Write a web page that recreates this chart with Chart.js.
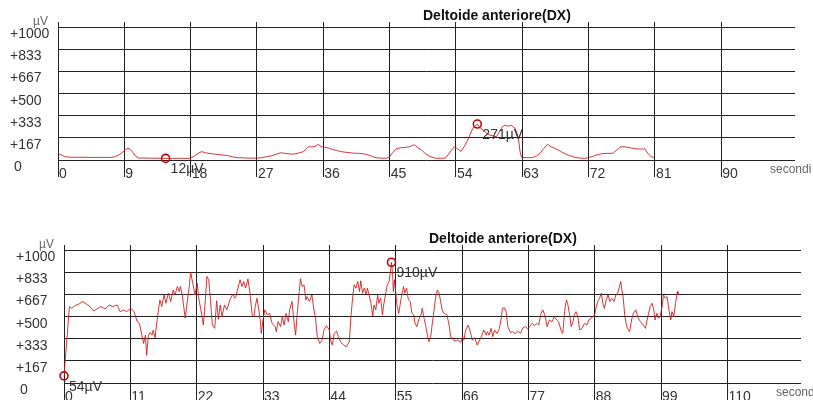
<!DOCTYPE html>
<html>
<head>
<meta charset="utf-8">
<script src="https://cdn.jsdelivr.net/npm/chart.js@4/dist/chart.umd.min.js"></script>
<style>
  html, body { margin: 0; padding: 0; background: #fff; overflow: hidden; width: 813px; height: 400px; }
  canvas { position: absolute; }
  #emgTop { left: 0; top: 0; }
  #emgBottom { left: 6px; top: 223px; }
</style>
</head>
<body>
<canvas id="emgTop" width="813" height="200"></canvas>
<canvas id="emgBottom" width="813" height="200"></canvas>
<script>
// ---- Data: EMG envelope of the anterior deltoid (µV over seconds) ----
const muscleTitle = 'Deltoide anteriore(DX)';
const yTickValues = [0, 166.7, 333.3, 500, 666.7, 833.3, 1000];
const yTickLabels = [' 0', '+167', '+333', '+500', '+667', '+833', '+1000'];

// First recording
const topTimes = [0, 0.4, 0.9, 1.5, 2.5, 3.5, 4.5, 5.5, 6.5, 7.3, 7.8, 8.3, 8.8, 9.2, 9.5, 9.8, 10.2, 10.6, 11.0, 11.5,
  12.5, 13.5, 14.6, 15.5, 16.5, 17.5, 18.0, 18.5, 19.0, 19.5, 20.0, 20.5, 21.0, 22.0, 23.0, 24.0, 24.5, 25.5, 26.5, 27.5,
  28.3, 29.0, 29.6, 30.2, 30.8, 31.5, 32.1, 32.8, 33.3, 33.7, 34.0, 34.5, 35.0, 35.3, 35.7, 36.2, 36.7, 37.2, 37.8, 38.5,
  39.2, 40.0, 40.8, 41.6, 42.3, 43.0, 43.8, 44.6, 45.0, 45.4, 45.9, 46.5, 47.1, 47.7, 48.1, 48.4, 48.8, 49.3, 49.8, 50.4,
  51.1, 52.0, 52.6, 53.0, 53.4, 53.8, 54.3, 54.7, 55.1, 55.5, 55.9, 56.3, 56.9, 57.3, 57.7, 58.2, 58.6, 59.1, 59.5, 59.9,
  60.3, 60.7, 61.1, 61.5, 62.0, 62.3, 62.5, 62.7, 62.9, 63.6, 64.3, 64.9, 65.4, 65.9, 66.4, 66.9, 67.4, 68.0, 68.5, 69.3,
  70.1, 70.8, 71.5, 72.0, 72.4, 73.1, 73.8, 74.5, 75.3, 75.8, 76.2, 76.5, 77.1, 77.8, 78.5, 79.2, 79.6, 80.1, 80.5, 80.9];
const topValues = [50, 40, 25, 22, 20, 21, 19, 20, 19, 20, 25, 40, 60, 80, 88, 80, 55, 25, 14, 15,
  14, 13, 12, 12, 13, 12, 14, 30, 50, 63, 55, 50, 46, 40, 33, 20, 17, 15, 14, 16,
  25, 32, 42, 55, 50, 45, 45, 55, 63, 85, 100, 98, 105, 118, 102, 95, 90, 80, 72, 62,
  57, 52, 50, 46, 35, 18, 14, 13, 25, 55, 85, 92, 95, 100, 110, 113, 95, 75, 50, 28,
  14, 13, 15, 45, 75, 100, 80, 65, 100, 140, 190, 240, 271, 240, 226, 200, 188, 180, 176, 215,
  250, 262, 255, 262, 240, 200, 150, 60, 20, 18, 17, 30, 50, 85, 118, 100, 88, 72, 55, 35,
  20, 14, 13, 18, 25, 38, 48, 50, 50, 75, 95, 100, 98, 90, 85, 82, 85, 45, 25, 18];
const topMarkTimes = [14.6, 56.9];
const topMarkValues = [12, 271];
const topXTicks = [0, 9, 18, 27, 36, 45, 54, 63, 72, 81, 90];
const topXMax = 100;

// Second recording
const bottomTimes = [0, 0.9, 1.3, 1.8, 2.4, 3.1, 3.8, 4.3, 4.9, 5.4, 6.1, 6.8, 7.5, 8.1, 8.8, 9.3, 9.9, 10.4, 11.1, 11.6,
  12.1, 12.5, 12.9, 13.2, 13.5, 13.7, 14.0, 14.3, 14.6, 14.8, 15.1, 15.4, 15.7, 15.9, 16.2, 16.6, 16.9, 17.3, 17.7, 18.1,
  18.4, 18.8, 19.1, 19.3, 19.6, 20.1, 20.3, 20.8, 21.0, 21.4, 21.7, 22.1, 22.3, 22.7, 23.1, 23.3, 23.7, 24.0, 24.3, 24.6,
  25.0, 25.3, 25.6, 25.9, 26.2, 26.6, 27.0, 27.6, 28.0, 28.3, 28.5, 29.0, 29.2, 29.5, 29.8, 30.1, 30.5, 30.8, 31.2, 31.5,
  31.7, 32.0, 32.3, 32.6, 32.7, 33.0, 33.3, 33.7, 34.1, 34.5, 35.0, 35.2, 35.5, 35.9, 36.2, 36.5, 36.8, 37.2, 37.4, 37.8,
  38.1, 38.4, 38.7, 39.0, 39.2, 39.5, 39.8, 40.1, 40.3, 40.7, 41.1, 41.4, 41.7, 42.0, 42.4, 42.8, 43.1, 43.5, 44.0, 44.2,
  44.5, 44.8, 45.2, 45.5, 45.9, 46.4, 46.8, 47.3, 47.6, 47.8, 48.1, 48.4, 48.7, 49.0, 49.2, 49.5, 49.8, 50.1, 50.3, 50.6,
  50.9, 51.2, 51.4, 51.7, 52.0, 52.2, 52.5, 52.8, 53.0, 53.3, 53.6, 53.9, 54.1, 54.3, 54.5, 54.6, 54.8, 55.2, 55.5, 55.9,
  56.3, 56.5, 56.8, 57.1, 57.4, 57.7, 58.0, 58.2, 58.5, 58.8, 59.2, 59.4, 59.7, 60.0, 60.3, 60.5, 60.8, 61.1, 61.4, 61.6,
  61.9, 62.2, 62.5, 62.7, 63.0, 63.5, 63.9, 64.1, 64.6, 65.0, 65.3, 65.8, 66.1, 66.3, 66.6, 67.0, 67.3, 67.7, 68.1, 68.5,
  68.9, 69.2, 69.6, 70.0, 70.2, 70.5, 70.8, 71.1, 71.4, 71.8, 72.2, 72.5, 72.7, 73.0, 73.3, 73.6, 74.0, 74.4, 74.8, 75.2,
  75.7, 76.1, 76.5, 76.9, 77.2, 77.6, 78.0, 78.4, 78.7, 79.1, 79.4, 79.8, 80.1, 80.5, 80.9, 81.3, 81.7, 82.0, 82.4, 82.7,
  83.0, 83.3, 83.5, 83.8, 84.1, 84.4, 84.6, 84.9, 85.2, 85.5, 85.9, 86.3, 86.7, 87.0, 87.4, 87.7, 88.0, 88.2, 88.5, 88.8,
  89.1, 89.4, 89.6, 89.9, 90.2, 90.5, 90.8, 91.2, 91.5, 91.8, 92.1, 92.3, 92.5, 92.7, 93.0, 93.3, 93.6, 93.8, 94.1, 94.4,
  94.8, 95.2, 95.6, 96.0, 96.4, 96.8, 97.2, 97.5, 97.8, 98.0, 98.3, 98.6, 98.9, 99.2, 99.4, 99.7, 100.0, 100.3, 100.6, 100.8,
  101.1, 101.4, 101.7, 101.8];
const bottomValues = [54, 576, 563, 583, 593, 614, 593, 576, 543, 556, 576, 558, 588, 576, 588, 538, 551, 538, 563, 538,
  467, 450, 361, 298, 361, 210, 361, 381, 361, 399, 341, 462, 563, 626, 576, 664, 601, 677, 614, 702,
  664, 727, 689, 727, 664, 488, 563, 740, 836, 740, 664, 752, 651, 551, 437, 538, 803, 778, 614, 437,
  412, 620, 480, 588, 500, 588, 551, 639, 669, 639, 651, 745, 778, 727, 765, 715, 785, 689, 513, 500,
  576, 639, 551, 450, 374, 475, 551, 513, 525, 450, 425, 387, 462, 425, 500, 437, 525, 462, 551, 614,
  475, 361, 538, 689, 785, 727, 740, 626, 651, 614, 664, 563, 488, 349, 298, 323, 399, 432, 399, 323,
  286, 374, 391, 349, 306, 286, 273, 311, 513, 614, 740, 715, 765, 689, 770, 677, 715, 664, 715, 664,
  600, 505, 588, 551, 664, 601, 639, 513, 588, 664, 740, 765, 828, 910, 815, 689, 778, 588, 525, 639,
  727, 677, 715, 626, 614, 525, 513, 450, 425, 475, 513, 563, 488, 425, 349, 311, 349, 462, 563, 639,
  702, 677, 601, 551, 525, 513, 425, 349, 323, 316, 323, 306, 349, 323, 399, 437, 399, 323, 341, 286,
  323, 349, 399, 361, 387, 361, 412, 349, 399, 374, 412, 488, 563, 568, 538, 425, 381, 387, 371, 391,
  374, 417, 425, 407, 425, 450, 432, 450, 437, 525, 551, 500, 425, 475, 462, 500, 475, 462, 399, 374,
  538, 626, 601, 525, 425, 462, 513, 538, 500, 399, 412, 450, 437, 475, 488, 500, 513, 563, 614, 639,
  677, 588, 563, 626, 664, 614, 639, 614, 664, 677, 727, 765, 702, 651, 500, 425, 399, 387, 475, 525,
  551, 488, 462, 437, 412, 500, 576, 601, 551, 475, 525, 488, 513, 588, 664, 639, 651, 551, 475, 538,
  500, 601, 689, 664];
const bottomMarkTimes = [0, 54.3];
const bottomMarkValues = [54, 910];
const bottomXTicks = [0, 11, 22, 33, 44, 55, 66, 77, 88, 99, 110];
const bottomXMax = 122.2;

// ---- Drawing ----
const FONT = "'Liberation Sans', Arial, sans-serif";
const LINE_COLOR = 'rgba(204, 20, 20, 0.85)';
const MARK_COLOR = '#c40000';
const GRID_COLOR = '#222';

const decorations = {
  id: 'emgDecorations',
  afterDatasetsDraw(chart) {
    const { ctx, chartArea } = chart;
    ctx.save();
    // value labels beside the marked points
    const meta = chart.getDatasetMeta(1);
    const vals = chart.data.datasets[1].data;
    ctx.font = '14px ' + FONT;
    ctx.fillStyle = '#333';
    ctx.textAlign = 'left';
    ctx.textBaseline = 'middle';
    meta.data.forEach((pt, i) => {
      ctx.fillText(vals[i].y + 'µV', pt.x + 5, pt.y + 11);
    });
    // title
    ctx.font = 'bold 14px ' + FONT;
    ctx.fillStyle = '#111';
    ctx.fillText(muscleTitle, chartArea.left + 365, chartArea.top - 5.5);
    // unit labels
    ctx.font = '12px ' + FONT;
    ctx.fillStyle = '#666';
    ctx.textAlign = 'right';
    ctx.fillText('µV', chartArea.left - 10, chartArea.top - 0.5);
    ctx.textAlign = 'left';
    ctx.fillText('secondi', chartArea.right - 25, chartArea.bottom + 10);
    ctx.restore();
  }
};

function buildChart(canvasId, times, values, markTimes, markValues, xTicks, xMax) {
  const series = times.map((t, i) => ({ x: t, y: values[i] }));
  const marks = markTimes.map((t, i) => ({ x: t, y: markValues[i] }));
  return new Chart(document.getElementById(canvasId), {
    type: 'scatter',
    data: {
      datasets: [
        { data: series, showLine: true, borderColor: LINE_COLOR, borderWidth: 1, pointRadius: 0, tension: 0 },
        { data: marks, showLine: false, pointRadius: 4, pointBorderWidth: 1.6,
          pointBorderColor: MARK_COLOR, pointBackgroundColor: 'rgba(0,0,0,0)', clip: false }
      ]
    },
    options: {
      responsive: false,
      animation: false,
      devicePixelRatio: 1,
      layout: { padding: { left: 10, right: 18, top: 22, bottom: 0 } },
      plugins: { legend: { display: false }, tooltip: { enabled: false }, title: { display: false } },
      scales: {
        x: {
          type: 'linear', min: 0, max: xMax,
          afterBuildTicks: s => { s.ticks = xTicks.map(v => ({ value: v })); },
          afterFit: s => { s.height = 40; },
          border: { display: false },
          grid: { color: GRID_COLOR, lineWidth: 1, drawTicks: true, tickLength: 17 },
          ticks: { autoSkip: false, maxRotation: 0, align: 'start', labelOffset: 1, padding: -11,
                   color: '#333', font: { family: FONT, size: 14 }, callback: v => String(v) }
        },
        y: {
          type: 'linear', min: 0, max: 1040,
          afterBuildTicks: s => { s.ticks = yTickValues.map(v => ({ value: v })); },
          afterFit: s => { s.width = 48; },
          border: { display: false },
          grid: { color: GRID_COLOR, lineWidth: 1, drawTicks: false },
          ticks: { crossAlign: 'far', labelOffset: 7, padding: 0, color: '#333',
                   font: { family: FONT, size: 14 }, callback: (v, i) => yTickLabels[i] }
        }
      }
    },
    plugins: [decorations]
  });
}

buildChart('emgTop', topTimes, topValues, topMarkTimes, topMarkValues, topXTicks, topXMax);
buildChart('emgBottom', bottomTimes, bottomValues, bottomMarkTimes, bottomMarkValues, bottomXTicks, bottomXMax);
</script>
</body>
</html>
